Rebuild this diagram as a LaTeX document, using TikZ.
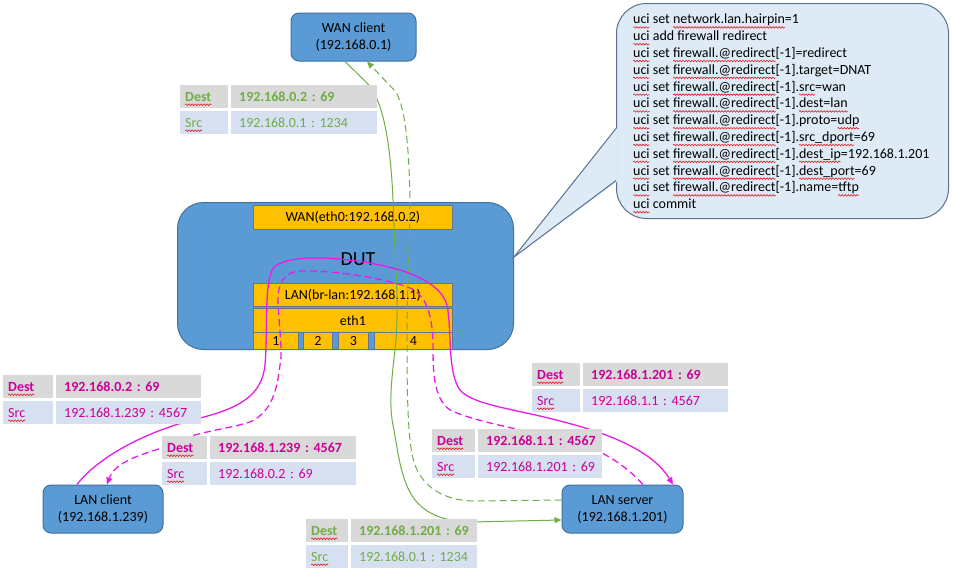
\documentclass[tikz,border=0pt]{standalone}
\usepackage{fontspec}
\setmainfont{Carlito}
\usetikzlibrary{arrows.meta,calc,decorations.pathmorphing}
\definecolor{nodefill}{HTML}{5B9BD5}
\definecolor{nodedraw}{HTML}{41719C}
\definecolor{barfill}{HTML}{FFC000}
\definecolor{bardraw}{HTML}{66768A}
\definecolor{calfill}{HTML}{DEEBF7}
\definecolor{caldraw}{HTML}{5A7190}
\definecolor{grn}{HTML}{70AD47}
\definecolor{mgline}{HTML}{E81CE8}
\definecolor{mgtext}{HTML}{CC0099}
\definecolor{destfill}{HTML}{D9D9D9}
\definecolor{srcfill}{HTML}{D6E0F0}
\definecolor{sqred}{HTML}{E02020}
\frenchspacing
\newsavebox\sqbox
\newlength\sqlen
\newcommand{\sq}[1]{\sbox\sqbox{#1}\setlength\sqlen{\wd\sqbox}%
  \tikz[overlay,baseline=0pt]\draw[sqred,line width=0.6pt,decorate,
    decoration={snake,amplitude=0.8pt,segment length=3pt}] (0pt,-3.5pt) -- (\sqlen,-3.5pt);%
  \usebox\sqbox}
\newcommand{\tabfont}{\fontsize{14}{16}\selectfont}
\newcommand{\pkt}[8]{%
  \pgfmathsetmacro\pktA{#3-#2-10}%
  \pgfmathsetmacro\pktB{#4-#3-3-16}%
  \pgfmathsetmacro\pktC{#3+3}%
  \pgfmathsetmacro\pktY{#5+26}%
  \node[cell, fill=destfill, text=#6, font=\tabfont\bfseries, text width=\pktA pt, inner xsep=5pt] (#1dl) at (#2,#5) {\sq{Dest}};
  \node[cell, fill=destfill, text=#6, font=\tabfont\bfseries, text width=\pktB pt, inner xsep=8pt] (#1dv) at (\pktC,#5) {\mbox{#7}};
  \node[cell, fill=srcfill, text=#6, font=\tabfont, text width=\pktA pt, inner xsep=5pt] (#1sl) at (#2,\pktY) {\sq{Src}};
  \node[cell, fill=srcfill, text=#6, font=\tabfont, text width=\pktB pt, inner xsep=8pt] (#1sv) at (\pktC,\pktY) {\mbox{#8}};
}
\begin{document}
\begin{tikzpicture}[x=1pt,y=-1pt,
  host/.style={draw=nodedraw, fill=nodefill, line width=1pt, rounded corners=8pt,
    minimum height=48pt, align=center, inner sep=1pt, font=\fontsize{14}{17}\selectfont},
  dutbox/.style={draw=nodedraw, fill=nodefill, line width=1pt, rounded corners=26pt,
    minimum width=336pt, minimum height=147pt},
  bar/.style={draw=bardraw, fill=barfill, line width=0.8pt, anchor=north west,
    inner sep=0pt, font=\fontsize{14}{16}\selectfont},
  cell/.style={anchor=north west, minimum height=23pt, inner ysep=0pt, align=left},
  tip/.style={-{Triangle[length=7pt,width=6pt]}},
  glink/.style={draw=grn, line width=1pt, tip},
  gdash/.style={glink, dash pattern=on 7pt off 4pt},
  mlink/.style={draw=mgline, line width=1.3pt, tip},
  mdash/.style={mlink, dash pattern=on 7pt off 4pt},
  callout/.style={draw=caldraw, fill=calfill, line width=1pt, rounded corners=30pt},
  cfgtext/.style={anchor=north west, inner sep=0pt, align=left, font=\fontsize{14}{16.8}\selectfont}
]
\useasboundingbox (0,0) rectangle (953,581);
\fill[white] (0,0) rectangle (953,581);

% DUT
\node[dutbox] (dut) at (345.5,276) {};
\node[font=\fontsize{20}{24}\selectfont, inner sep=0pt] (dutlabel) at (358,259) {DUT};
\node[bar, minimum width=199pt, minimum height=24pt] (wanif) at (253,205) {WAN(eth0:192.168.0.2)};
\node[bar, minimum width=199pt, minimum height=23pt] (lanif) at (253,283) {LAN(br-lan:192.168.1.1)};
\node[bar, minimum width=199pt, minimum height=24pt] (eth1) at (253,308) {eth1};
\node[bar, minimum width=45pt, minimum height=17pt] (p1) at (253,332) {1};
\node[bar, minimum width=29pt, minimum height=17pt] (p2) at (303,332) {2};
\node[bar, minimum width=30pt, minimum height=17pt] (p3) at (338,332) {3};
\node[bar, minimum width=78pt, minimum height=17pt] (p4) at (374,332) {4};

% callout
\node[callout, anchor=north west, minimum width=332pt, minimum height=215pt] (cfg) at (616,3) {};
\coordinate (ctip) at ($(dut.east)+(0,-19)$);
\fill[calfill] ($(cfg.west)+(1.5,16.5)$) -- (ctip) -- ($(cfg.west)+(1.5,70.5)$) -- cycle;
\draw[draw=caldraw, line width=1pt, line join=miter] ($(cfg.west)+(0,17.5)$) -- (ctip) -- ($(cfg.west)+(0,69.5)$);
\node[cfgtext] (cfgtxt) at (633,14) {%
\sq{uci} set \sq{network.lan.hairpin}=1\\
\sq{uci} add firewall redirect\\
\sq{uci} set \sq{firewall.@redirect}[-1]=redirect\\
\sq{uci} set \sq{firewall.@redirect}[-1].target=DNAT\\
\sq{uci} set \sq{firewall.@redirect}[-1].\sq{src}=wan\\
\sq{uci} set \sq{firewall.@redirect}[-1].\sq{dest=lan}\\
\sq{uci} set \sq{firewall.@redirect}[-1].proto=\sq{udp}\\
\sq{uci} set \sq{firewall.@redirect}[-1].\sq{src\_dport}=69\\
\sq{uci} set \sq{firewall.@redirect}[-1].\sq{dest\_ip}=192.168.1.201\\
\sq{uci} set \sq{firewall.@redirect}[-1].\sq{dest\_port}=69\\
\sq{uci} set \sq{firewall.@redirect}[-1].name=\sq{tftp}\\
\sq{uci} commit};

% hosts
\node[host, minimum width=125pt] (wanc) at (353.5,37) {WAN client\\(192.168.0.1)};
\node[host, minimum width=120pt] (lanc) at (103,509) {LAN client\\(192.168.1.239)};
\node[host, minimum width=121pt] (lans) at (622.5,509) {LAN server\\(192.168.1.201)};

% green flows
\draw[glink] ($(wanc.south)+(-8.5,0)$) -- (366,82)
  .. controls (380,95) and (390,130) .. (393,200)
  .. controls (395,260) and (399,300) .. (396,340)
  .. controls (393,370) and (388,400) .. (393,425)
  .. controls (398,450) and (400,480) .. (415,500)
  .. controls (425,512) and (440,521) .. (470,522)
  -- ($(lans.west)+(0,11)$);
\draw[gdash] ($(lans.west)+(0,-9)$) -- (472,501)
  .. controls (445,500) and (422,488) .. (414,462)
  .. controls (408,442) and (407,400) .. (407,340)
  .. controls (407,290) and (410,240) .. (410,200)
  .. controls (409,150) and (406,110) .. (396,92)
  -- ($(wanc.south)+(13.5,0)$);

% magenta flows
\draw[mlink] ($(lanc.north)+(-26,0)$)
  .. controls (100,455) and (150,430) .. (200,418)
  .. controls (240,408) and (262,395) .. (265,365)
  .. controls (268,330) and (264,290) .. (272,270)
  .. controls (280,256) and (320,256) .. (357,261)
  .. controls (400,267) and (440,280) .. (447,305)
  .. controls (452,330) and (447,372) .. (460,390)
  .. controls (472,405) and (520,410) .. (560,421)
  .. controls (620,436) and (655,455) .. ($(lans.north)+(50.5,0)$);
\draw[mdash] ($(lans.north)+(20.5,0)$)
  .. controls (625,465) and (600,447) .. (560,438)
  .. controls (520,430) and (470,420) .. (450,410)
  .. controls (436,400) and (433,380) .. (433,350)
  .. controls (433,318) and (428,296) .. (410,288)
  .. controls (390,280) and (340,270) .. (300,271)
  .. controls (285,272) and (278,282) .. (278,300)
  .. controls (279,330) and (283,350) .. (280,365)
  .. controls (277,390) and (272,412) .. (250,422)
  .. controls (225,430) and (190,432) .. (165,447)
  .. controls (140,455) and (115,462) .. ($(lanc.north)+(4,0)$);

% packet tables
\pkt{ta}{180}{228}{377}{85}{grn}{192.168.0.2 : 69}{192.168.0.1 : 1234}
\pkt{tb}{3}{53}{201}{375}{mgtext}{192.168.0.2 : 69}{192.168.1.239 : 4567}
\pkt{tc}{162}{207}{356}{436}{mgtext}{192.168.1.239 : 4567}{192.168.0.2 : 69}
\pkt{td}{532}{580}{728}{363}{mgtext}{192.168.1.201 : 69}{192.168.1.1 : 4567}
\pkt{te}{432}{475}{602}{429}{mgtext}{192.168.1.1 : 4567}{192.168.1.201 : 69}
\pkt{tf}{306}{348}{477}{519}{grn}{192.168.1.201 : 69}{192.168.0.1 : 1234}
\end{tikzpicture}
\end{document}
